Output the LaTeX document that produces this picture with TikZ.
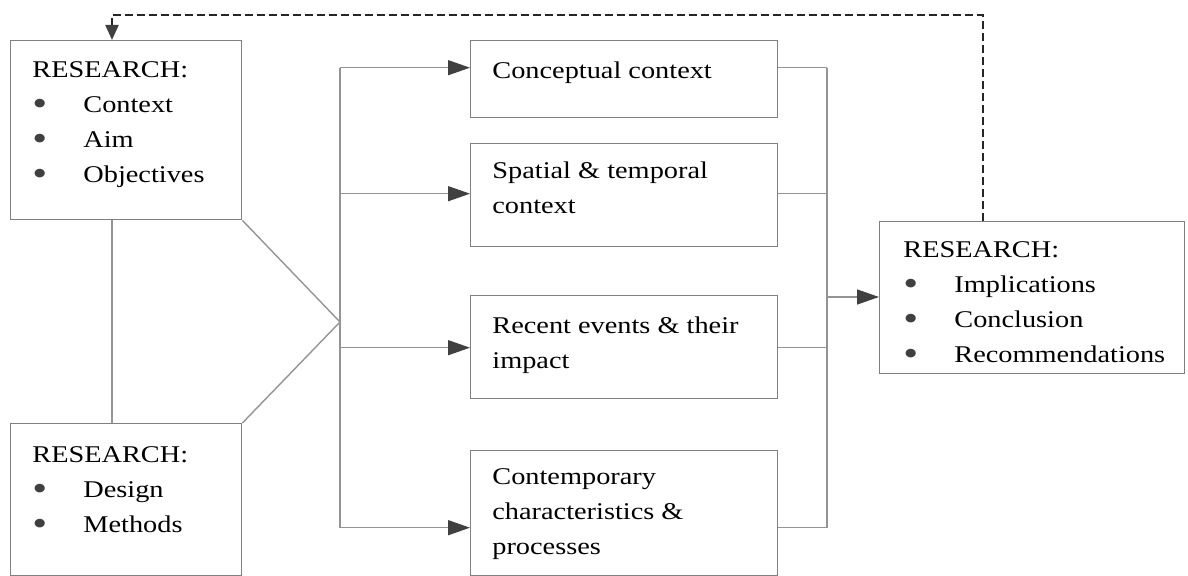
\documentclass[tikz,border=0pt]{standalone}
\usepackage{fontspec}
\setmainfont[FakeStretch=1.18]{Liberation Serif}
\usetikzlibrary{arrows.meta, positioning, calc}
\definecolor{framegray}{gray}{0.5}
\definecolor{wiregray}{gray}{0.58}
\definecolor{tipgray}{gray}{0.25}
\newcommand{\bul}{\makebox[25.5pt][l]{\raisebox{-1.6pt}{\fontsize{18}{0}\selectfont\textcolor{tipgray}{\textbullet}}}}
\tikzset{
   mybox/.style={draw=framegray, line width=.7pt, inner sep=0pt, anchor=north west},
   mytext/.style={align=left, inner sep=0pt, anchor=north west, font=\fontsize{12}{17.5}\selectfont},
   mywire/.style={draw=wiregray, line width=.7pt},
   myflow/.style={mywire, -{Triangle[length=11pt,width=7.5pt,color=tipgray]}},
   myloop/.style={draw=black!85, line width=1pt, dash pattern=on 4pt off 2pt,
      -{Triangle[length=7.5pt,width=6.5pt,color=tipgray]}}
}
\begin{document}
\begin{tikzpicture}[x=0.5pt, y=-0.5pt]
      \useasboundingbox (0,0) rectangle (1188,576);
      \clip (0,0) rectangle (1188,576);
      % boxes
      \node[mybox, minimum width=115.5pt, minimum height=89.5pt] (ctx) at (10,40) {};
      \node[mybox, minimum width=115.5pt, minimum height=76pt] (dsn) at (10,423) {};
      \node[mybox, minimum width=153.5pt, minimum height=38.5pt] (cpt) at (470,40) {};
      \node[mybox, minimum width=153.5pt, minimum height=51.5pt] (spt) at (470,143) {};
      \node[mybox, minimum width=153.5pt, minimum height=51.5pt] (rec) at (470,295) {};
      \node[mybox, minimum width=153.5pt, minimum height=62.5pt] (con) at (470,450) {};
      \node[mybox, minimum width=152.5pt, minimum height=76pt] (imp) at (879,221) {};
      % texts
      \node[mytext] (ctx-t) at ([xshift=11pt,yshift=-10.6pt]ctx.north west)
         {RESEARCH:\\\bul Context\\\bul Aim\\\bul Objectives};
      \node[mytext] (dsn-t) at ([xshift=11pt,yshift=-11.4pt]dsn.north west)
         {RESEARCH:\\\bul Design\\\bul Methods};
      \node[mytext] (cpt-t) at ([xshift=11pt,yshift=-10.7pt]cpt.north west)
         {Conceptual context};
      \node[mytext] (spt-t) at ([xshift=11pt,yshift=-9.3pt]spt.north west)
         {Spatial \& temporal\\context};
      \node[mytext] (rec-t) at ([xshift=11pt,yshift=-10.7pt]rec.north west)
         {Recent events \& their\\impact};
      \node[mytext] (con-t) at ([xshift=11pt,yshift=-9.3pt]con.north west)
         {Contemporary\\characteristics \&\\processes};
      \node[mytext] (imp-t) at ([xshift=12pt,yshift=-10.1pt]imp.north west)
         {RESEARCH:\\\bul Implications\\\bul Conclusion\\\bul Recommendations};
      % connectors
      \coordinate (hub) at (340,322);
      \coordinate (rbus) at (827,297);
      \draw[mywire] ($(ctx.south west)+(102,0)$) -- ($(dsn.north west)+(102,0)$);
      \draw[mywire] (ctx.south east) -- (hub) -- (dsn.north east);
      \foreach \b/\dy in {cpt/-11.5, spt/-1.5, rec/0.5, con/14.5} {
         \coordinate (\b-in) at ($(\b.west)+(0,\dy)$);
         \draw[myflow] (\b-in -| hub) -- (\b-in);
         \draw[mywire] (\b-in -| \b.east) -- (\b-in -| rbus);
      }
      \draw[mywire] (cpt-in -| hub) -- (con-in -| hub);
      \draw[mywire] (cpt-in -| rbus) -- (con-in -| rbus);
      \draw[myflow] (rbus) -- (rbus -| imp.west);
      % feedback
      \draw[myloop] ($(imp.north west)+(104,0)$) |- ($(ctx.north west)+(102,-25)$)
         -- ($(ctx.north west)+(102,0)$);
\end{tikzpicture}
\end{document}
